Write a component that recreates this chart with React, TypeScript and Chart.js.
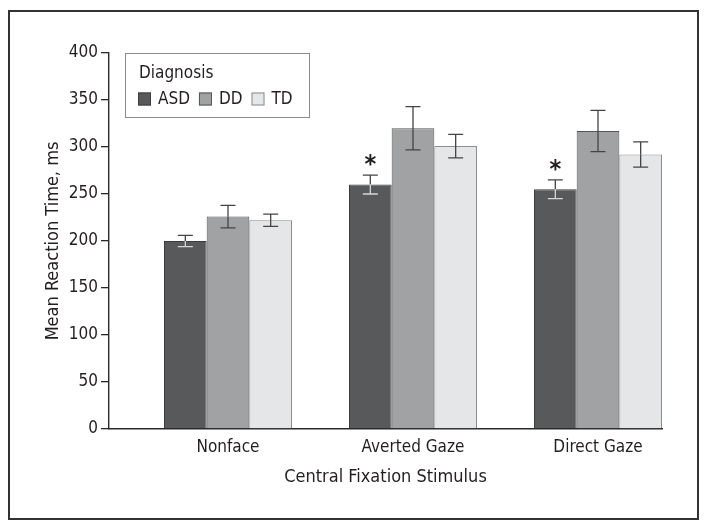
import React, { useEffect, useRef } from 'react';
import { Chart, registerables } from 'chart.js';

Chart.register(...registerables);

// ---------------- data ----------------
const categories = ['Nonface', 'Averted Gaze', 'Direct Gaze'];
const seriesNames = ['ASD', 'DD', 'TD'];
const asdMeans = [200, 260, 255];
const asdErrors = [6, 10, 10];
const ddMeans = [226, 320, 317];
const ddErrors = [12, 23, 22];
const tdMeans = [222, 301, 292];
const tdErrors = [6.5, 12.5, 13.5];
const asdSignificant = [false, true, true];
const yMin = 0;
const yMax = 400;
const yStep = 50;
const legendTitle = 'Diagnosis';
const xTitle = 'Central Fixation Stimulus';
const yTitle = 'Mean Reaction Time, ms';

// ---------------- styles ----------------
const FONT = "'Liberation Sans Narrow', 'DejaVu Sans Condensed', 'Arial Narrow', sans-serif";
const TEXT = '#231f20';
const AXIS = '#2a2a2a';
const fills = ['#58595b', '#a1a2a4', '#e5e6e7'];
const borders = ['#3c3c3c', '#555555', '#8c8c8c'];
const innerErrColors = ['#d6d6d6', '#444444', '#444444'];
const GROUP_FRACTION = 0.692;
const LEFT_GAP = 55;

const xShiftPlugin = {
  id: 'xShift',
  afterLayout(chart: any) {
    const xs = chart.scales.x;
    const area = chart.chartArea;
    const n = categories.length;
    const w = area.right - area.left;
    const c = (w - LEFT_GAP) / (n - 1 + GROUP_FRACTION);
    const start = area.left + LEFT_GAP - ((1 - GROUP_FRACTION) / 2) * c;
    xs._startPixel = start;
    xs._length = c * n;
    xs._endPixel = start + c * n;
  },
};

const errorBarPlugin = {
  id: 'errorBars',
  afterDatasetsDraw(chart: any) {
    const ctx = chart.ctx;
    const ys = chart.scales.y;
    chart.data.datasets.forEach((ds: any, i: number) => {
      const meta = chart.getDatasetMeta(i);
      meta.data.forEach((bar: any, j: number) => {
        const v = ds.data[j];
        const e = ds.errors[j];
        const x = bar.x;
        const yTop = ys.getPixelForValue(v + e);
        const yMid = ys.getPixelForValue(v);
        const yBot = ys.getPixelForValue(v - e);
        const cap = 7.5;
        ctx.save();
        ctx.lineWidth = 1.3;
        ctx.strokeStyle = '#444444';
        ctx.beginPath();
        ctx.moveTo(x, yTop);
        ctx.lineTo(x, yMid);
        ctx.moveTo(x - cap, yTop);
        ctx.lineTo(x + cap, yTop);
        ctx.stroke();
        ctx.strokeStyle = innerErrColors[i];
        ctx.beginPath();
        ctx.moveTo(x, yMid);
        ctx.lineTo(x, yBot);
        ctx.moveTo(x - cap, yBot);
        ctx.lineTo(x + cap, yBot);
        ctx.stroke();
        if (i === 0 && asdSignificant[j]) {
          ctx.fillStyle = TEXT;
          ctx.font = `bold 25px ${FONT}`;
          ctx.textAlign = 'center';
          ctx.textBaseline = 'alphabetic';
          ctx.fillText('*', x, yTop - 18 + 15);
        }
        ctx.restore();
      });
    });
  },
};

const legendPlugin = {
  id: 'customLegend',
  afterDraw(chart: any) {
    const ctx = chart.ctx;
    ctx.save();
    ctx.fillStyle = '#ffffff';
    ctx.fillRect(125, 53, 184, 64);
    ctx.strokeStyle = '#8a8a8a';
    ctx.lineWidth = 1;
    ctx.strokeRect(125.5, 53.5, 184, 64);
    ctx.fillStyle = TEXT;
    ctx.font = `17px ${FONT}`;
    ctx.textAlign = 'left';
    ctx.textBaseline = 'middle';
    ctx.fillText(legendTitle, 139, 74);
    let x = 138;
    const yc = 99;
    chart.data.datasets.forEach((ds: any, i: number) => {
      ctx.fillStyle = fills[i];
      ctx.fillRect(x, yc - 6.5, 13, 13);
      ctx.strokeStyle = borders[i];
      ctx.strokeRect(x + 0.5, yc - 6, 12, 12);
      ctx.fillStyle = TEXT;
      ctx.fillText(ds.label, x + 20, yc + 1);
      x += 20 + ctx.measureText(ds.label).width + 9;
    });
    ctx.restore();
  },
};

const framePlugin = {
  id: 'frame',
  afterDraw(chart: any) {
    const ctx = chart.ctx;
    ctx.save();
    ctx.strokeStyle = '#333333';
    ctx.lineWidth = 2;
    ctx.strokeRect(9, 11, 689, 508);
    ctx.restore();
  },
};

export default function App() {
  const ref = useRef<HTMLCanvasElement | null>(null);

  useEffect(() => {
    if (!ref.current) return;
    const chart = new Chart(ref.current, {
      type: 'bar',
      data: {
        labels: categories,
        datasets: [
          { label: seriesNames[0], data: asdMeans, errors: asdErrors, backgroundColor: fills[0], borderColor: borders[0], borderWidth: 1 } as any,
          { label: seriesNames[1], data: ddMeans, errors: ddErrors, backgroundColor: fills[1], borderColor: borders[1], borderWidth: 1 } as any,
          { label: seriesNames[2], data: tdMeans, errors: tdErrors, backgroundColor: fills[2], borderColor: borders[2], borderWidth: 1 } as any,
        ],
      },
      options: {
        responsive: false,
        animation: false,
        events: [],
        datasets: { bar: { barPercentage: 1, categoryPercentage: GROUP_FRACTION } },
        layout: { padding: { left: 0, top: 53, right: 46, bottom: 0 } },
        plugins: { legend: { display: false }, tooltip: { enabled: false } },
        scales: {
          x: {
            z: 1,
            grid: { display: false, drawTicks: false },
            border: { display: true, color: AXIS, width: 1.4 },
            ticks: { color: TEXT, font: { family: FONT, size: 17 }, padding: 8 },
            title: { display: true, text: xTitle, color: TEXT, font: { family: FONT, size: 18 }, padding: { top: 0, bottom: 41 } },
            afterFit: (s: any) => { s.height = 100; },
          },
          y: {
            min: yMin,
            max: yMax,
            ticks: { stepSize: yStep, color: TEXT, font: { family: FONT, size: 17 }, padding: 3 },
            grid: { display: true, drawOnChartArea: false, drawTicks: true, tickLength: 8, color: AXIS, lineWidth: 1.3 },
            border: { display: true, color: AXIS, width: 1.4 },
            title: { display: true, text: yTitle, color: TEXT, font: { family: FONT, size: 18 }, padding: { top: 43, bottom: 0 } },
            afterFit: (s: any) => { s.width = 109; },
          },
        },
      } as any,
      plugins: [xShiftPlugin, errorBarPlugin, legendPlugin, framePlugin],
    });
    return () => chart.destroy();
  }, []);

  return (
    <div style={{ position: 'fixed', left: 0, top: 0, width: 708, height: 529, background: '#fff' }}>
      <canvas ref={ref} width={708} height={529} />
    </div>
  );
}
